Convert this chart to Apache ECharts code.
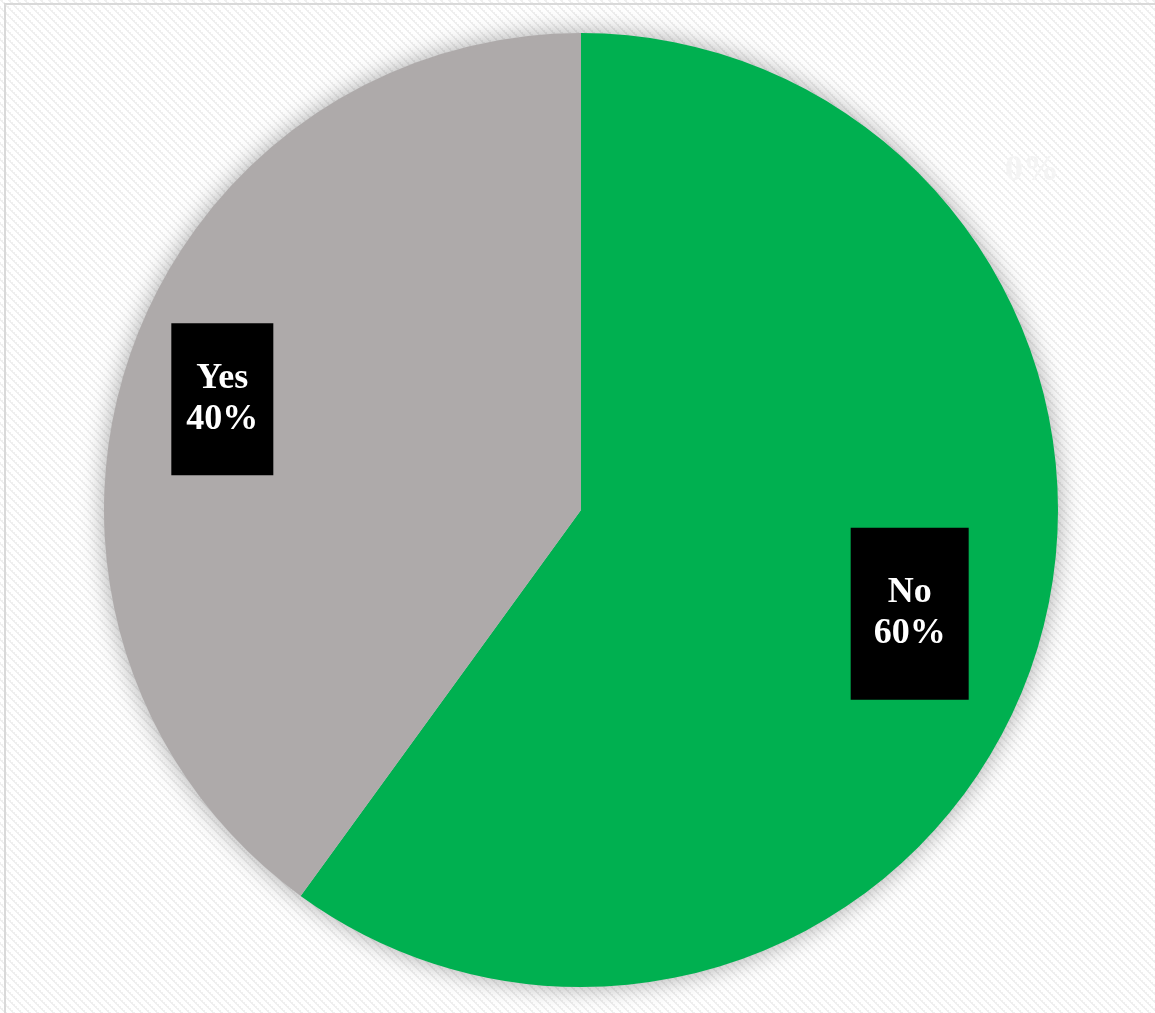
<!DOCTYPE html>
<html>
<head>
<meta charset="utf-8">
<script src="https://cdn.jsdelivr.net/npm/echarts@6/dist/echarts.min.js"></script>
<style>
  html, body { margin: 0; padding: 0; background: #fff; overflow: hidden; }
  #frame {
    position: absolute;
    left: 4px;
    top: 3px;
    width: 1160px;
    height: 1020px;
    border: 2px solid #d9d9d9;
    box-sizing: border-box;
  }
  #chart { position: absolute; left: 0; top: 0; width: 1155px; height: 1013px; }
</style>
</head>
<body>
<div id="chart"></div>
<div id="frame"></div>
<script>
const categories = ['No', 'Yes', '']
const values = [60, 40, 0]
const sliceColors = ['#00B050', '#AEAAAA', '#ffffff']

// label nudges relative to ECharts' inside position (px)
const labelNudge = [[99, 29], [-129, -36], [451, -98]]
const labelPadding = [[47, 23, 43, 23], [37, 15, 33, 15], [0, 0]]

// diagonal weave background tile
function makeTile() {
  const c = document.createElement('canvas')
  c.width = 8
  c.height = 8
  const ctx = c.getContext('2d')
  ctx.fillStyle = '#ffffff'
  ctx.fillRect(0, 0, 8, 8)
  ctx.fillStyle = '#efefef'
  for (let y = 0; y < 8; y++) {
    for (let x = 0; x < 8; x++) {
      const d = (x - y + 16) % 8
      if (d === 0 || d === 1 || (d === 2 && y % 2 === 0)) ctx.fillRect(x, y, 1, 1)
    }
  }
  return c
}

const chart = echarts.init(document.getElementById('chart'))
const total = values.reduce((a, b) => a + b, 0)

chart.setOption({
  backgroundColor: { image: makeTile(), repeat: 'repeat' },
  animation: false,
  series: [
    {
      // shadow underlay
      type: 'pie',
      silent: true,
      center: [581, 510],
      radius: 477,
      label: { show: false },
      itemStyle: { color: '#cfcfcf', shadowBlur: 24, shadowColor: 'rgba(0,0,0,0.35)' },
      data: [{ value: total, name: 'all' }]
    },
    {
      type: 'pie',
      center: [581, 510],
      radius: 477,
      startAngle: 90,
      clockwise: true,
      minShowLabelAngle: 0,
      avoidLabelOverlap: false,
      labelLine: { show: false },
      label: {
        show: true,
        position: 'inside',
        fontFamily: 'Liberation Serif, Times New Roman, serif',
        fontWeight: 'bold',
        fontSize: 36,
        lineHeight: 41,
        color: '#fff',
        backgroundColor: '#000',
        formatter: (p) => (p.name ? p.name + '\n' : '') + Math.round(p.percent) + '%'
      },
      labelLayout: (p) => ({ dx: labelNudge[p.dataIndex][0], dy: labelNudge[p.dataIndex][1] }),
      data: categories.map((name, i) => ({
        name,
        value: values[i],
        itemStyle: { color: sliceColors[i] },
        label: {
          padding: labelPadding[i],
          backgroundColor: values[i] === 0 ? 'transparent' : '#000',
          color: values[i] === 0 ? '#f4f4f4' : '#fff'
        }
      }))
    }
  ]
})
</script>
</body>
</html>
